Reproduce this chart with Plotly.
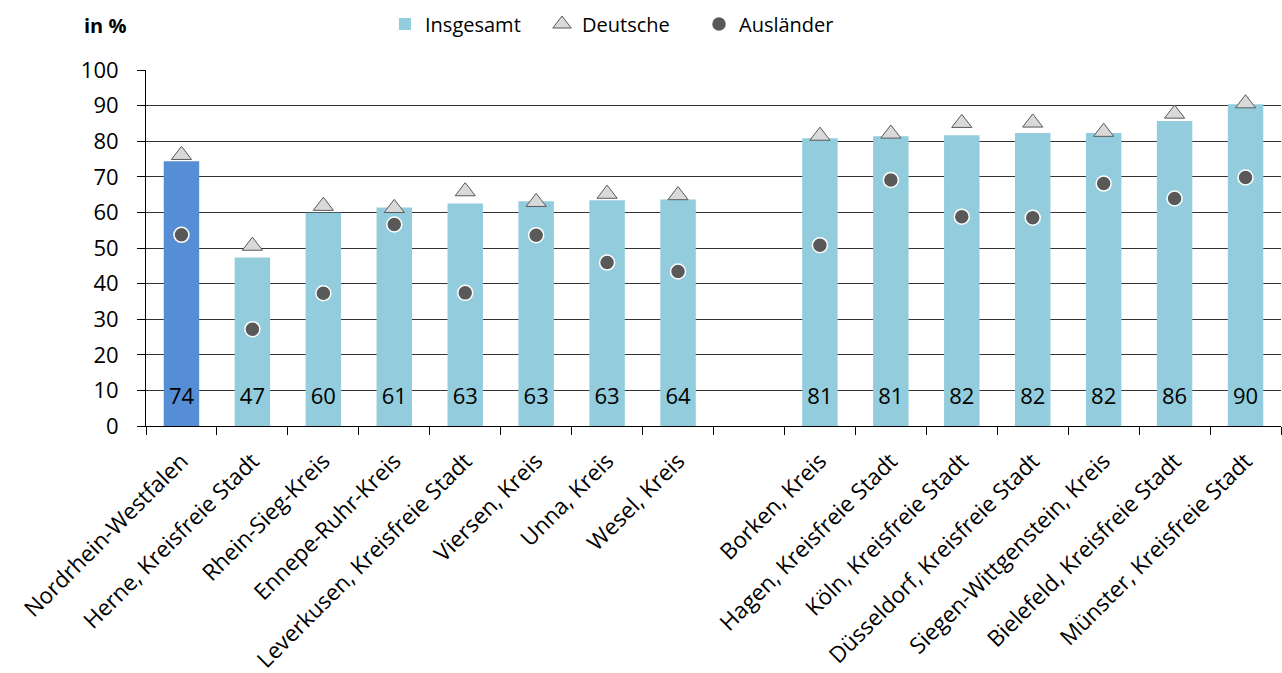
import plotly.graph_objects as go

categories = ["Nordrhein-Westfalen", "Herne, Kreisfreie Stadt", "Rhein-Sieg-Kreis",
              "Ennepe-Ruhr-Kreis", "Leverkusen, Kreisfreie Stadt", "Viersen, Kreis",
              "Unna, Kreis", "Wesel, Kreis", " ",
              "Borken, Kreis", "Hagen, Kreisfreie Stadt", "Köln, Kreisfreie Stadt",
              "Düsseldorf, Kreisfreie Stadt", "Siegen-Wittgenstein, Kreis",
              "Bielefeld, Kreisfreie Stadt", "Münster, Kreisfreie Stadt"]

insgesamt = [74.4, 47.3, 59.9, 61.4, 62.5, 63.1, 63.4, 63.6, None,
             80.8, 81.4, 81.7, 82.3, 82.3, 85.7, 90.4]
deutsche = [76.1, 50.6, 61.8, 61.2, 65.9, 62.9, 65.2, 64.8, None,
            81.5, 82.1, 85.1, 85.2, 82.6, 87.7, 90.6]
auslaender = [53.7, 27.2, 37.3, 56.6, 37.4, 53.6, 45.9, 43.4, None,
              50.8, 69.1, 58.8, 58.5, 68.1, 63.9, 69.8]
labels = ["74", "47", "60", "61", "63", "63", "63", "64", "",
          "81", "81", "82", "82", "82", "86", "90"]
label_level = 7.8

FONT = "Open Sans"

fig = go.Figure()

# Highlighted NRW bar
fig.add_trace(go.Bar(
    x=categories[:1], y=insgesamt[:1], marker=dict(color="#558ED5", line=dict(width=0)),
    showlegend=False, width=0.5, hoverinfo="skip"))

fig.add_trace(go.Bar(
    x=categories[1:], y=insgesamt[1:], name="Insgesamt",
    marker=dict(color="#93CDDD", line=dict(width=0)), width=0.5))

fig.add_trace(go.Scatter(
    x=categories, y=deutsche, name="Deutsche", mode="markers",
    marker=dict(symbol="triangle-up", size=17.5, color="#D9D9D9",
                line=dict(color="#595959", width=1))))

fig.add_trace(go.Scatter(
    x=categories, y=auslaender, name="Ausländer", mode="markers",
    marker=dict(symbol="circle", size=15, color="#595959",
                line=dict(color="#FFFFFF", width=1.5))))

fig.add_trace(go.Scatter(
    x=categories, y=[label_level if t else None for t in labels], text=labels,
    mode="text", textposition="middle center", showlegend=False,
    textfont=dict(family=FONT, size=22, color="#000000"), hoverinfo="skip"))

plot_w = 1282 - 146 - 1
plot_h = 673 - 70 - 247

fig.update_layout(
    width=1282, height=673,
    margin=dict(l=146, r=1, t=70, b=247, pad=0, autoexpand=False),
    paper_bgcolor="white", plot_bgcolor="white",
    barmode="overlay",
    font=dict(family=FONT, color="#000000"),
    showlegend=True,
    legend=dict(orientation="h", x=(385 - 146) / plot_w, y=1 + (70 - 24) / plot_h,
                xanchor="left", yanchor="middle",
                entrywidth=112, entrywidthmode="pixels",
                font=dict(family=FONT, size=20, color="#000000"),
                bgcolor="rgba(0,0,0,0)", itemclick=False, traceorder="normal"),
    annotations=[dict(text="<b>in %</b>", x=(82 - 146) / plot_w, y=1 + (70 - 25) / plot_h,
                      xref="paper", yref="paper", xanchor="left", yanchor="middle",
                      showarrow=False, font=dict(family=FONT, size=20))],
)

fig.update_xaxes(
    type="category", categoryorder="array", categoryarray=categories,
    range=[-0.5, 15.5], automargin=False,
    showline=True, linecolor="#000000", linewidth=1,
    ticks="outside", tickson="boundaries", ticklen=8, tickcolor="#000000",
    tickangle=-45, ticklabelstandoff=12,
    tickfont=dict(family=FONT, size=22.5, color="#000000"),
    showgrid=False)

fig.update_yaxes(
    range=[0, 100], dtick=10, tick0=0, automargin=False,
    showline=True, linecolor="#000000", linewidth=1,
    ticks="outside", ticklen=8, tickcolor="#000000",
    ticklabelstandoff=14,
    tickfont=dict(family=FONT, size=22, color="#000000"),
    showgrid=True, gridcolor="#333333", gridwidth=1, zeroline=False)

fig.write_html("out.html")
